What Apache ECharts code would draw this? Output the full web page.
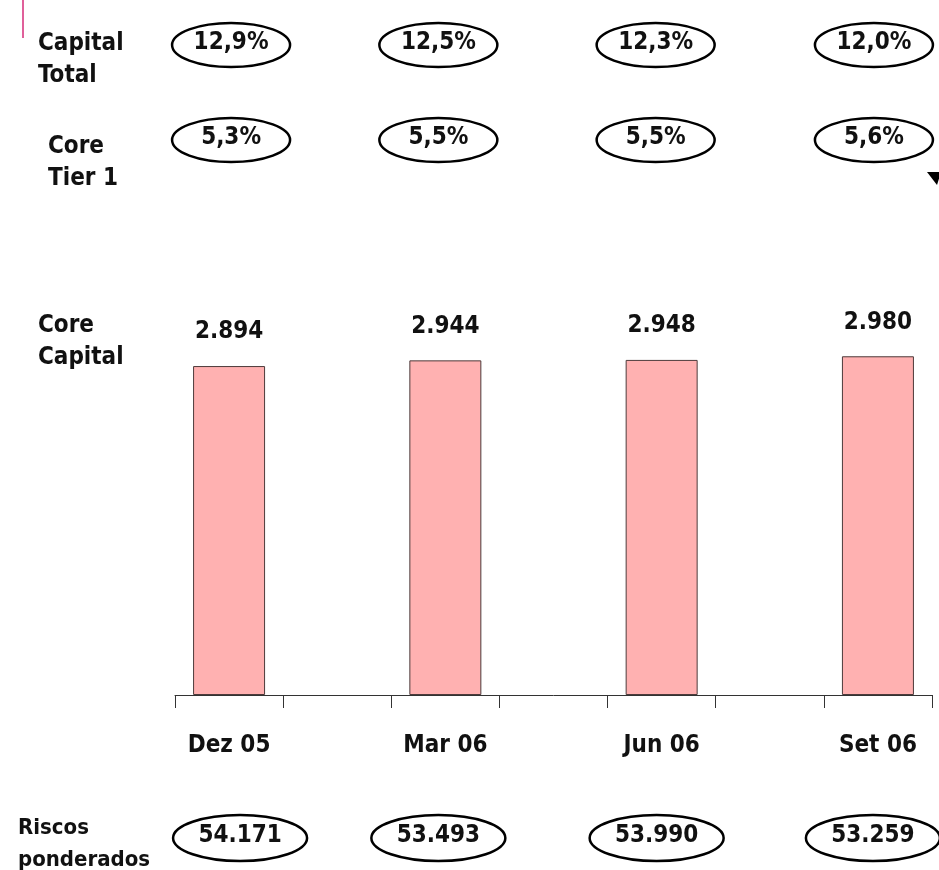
<!DOCTYPE html>
<html>
<head>
<meta charset="utf-8">
<title>Core Capital</title>
<script src="https://cdn.jsdelivr.net/npm/echarts@6/dist/echarts.min.js"></script>
<style>
    html, body { margin: 0; padding: 0; background: #fff; }
    #main { width: 939px; height: 870px; }
</style>
</head>
<body>
<div id="main"></div>
<script>
// dados
let periods = ['Dez 05', 'Mar 06', 'Jun 06', 'Set 06'];
let coreCapital = [2894, 2944, 2948, 2980];
let capitalTotal = [12.9, 12.5, 12.3, 12.0];
let coreTier1 = [5.3, 5.5, 5.5, 5.6];
let riscosPonderados = [54171, 53493, 53990, 53259];

let FONT = '"DejaVu Sans Condensed", "DejaVu Sans", sans-serif';

// eixo com espaços vazios entre os trimestres
let categories = [];
let barData = [];
periods.forEach((p, i) => {
    if (i > 0) {
        categories.push('gap' + i);
        barData.push(null);
    }
    categories.push(p);
    barData.push(coreCapital[i]);
});

function pct(v) {
    return v.toFixed(1).replace('.', ',') + '%';
}

function milhares(v) {
    return String(v).replace(/\B(?=(\d{3})+(?!\d))/g, '.');
}

let chart = echarts.init(document.getElementById('main'));

let option = {
    animation: false,
    grid: {
        left: 175,
        right: 7,
        top: 354,
        bottom: 175
    },
    xAxis: {
        type: 'category',
        data: categories,
        boundaryGap: true,
        axisLine: { lineStyle: { color: '#333', width: 1 } },
        axisTick: { show: true, interval: 0, length: 13, lineStyle: { color: '#333' } },
        axisLabel: {
            interval: 0,
            margin: 39,
            fontFamily: FONT,
            fontWeight: 'bold',
            fontSize: 24,
            color: '#111',
            formatter: function(v) {
                return v.indexOf('gap') === 0 ? '' : v;
            }
        },
        splitLine: { show: false }
    },
    yAxis: {
        type: 'value',
        min: 0,
        max: 3000,
        show: false
    },
    series: [{
        type: 'bar',
        data: barData,
        barWidth: 72,
        itemStyle: {
            color: '#ffb1b1',
            borderColor: '#4d3b3b',
            borderWidth: 1
        },
        label: {
            show: true,
            position: 'top',
            distance: 22,
            fontFamily: FONT,
            fontWeight: 'bold',
            fontSize: 24,
            color: '#111',
            formatter: function(p) {
                return milhares(p.value);
            }
        }
    }]
};

chart.setOption(option);

// rótulos à esquerda e elipses com os rácios
function rowLabel(text, x, y, size) {
    return {
        type: 'text',
        style: {
            x: x,
            y: y,
            text: text,
            fontFamily: FONT,
            fontWeight: 'bold',
            fontSize: size || 24,
            lineHeight: 32,
            fill: '#111',
            textVerticalAlign: 'top'
        }
    };
}

function oval(cx, cy, rx, ry, text) {
    return {
        type: 'group',
        children: [{
            type: 'ellipse',
            shape: { cx: cx, cy: cy, rx: rx, ry: ry },
            style: { fill: '#fff', stroke: '#000', lineWidth: 2.5 }
        }, {
            type: 'text',
            style: {
                x: cx,
                y: cy - 2,
                text: text,
                fontFamily: FONT,
                fontWeight: 'bold',
                fontSize: 24,
                fill: '#111',
                textAlign: 'center',
                textVerticalAlign: 'middle'
            }
        }]
    };
}

let elements = [
    rowLabel('Capital\nTotal', 38, 28),
    rowLabel('Core\nTier 1', 48, 131),
    rowLabel('Core\nCapital', 38, 310),
    rowLabel('Riscos\nponderados', 18, 812, 22),
    {
        type: 'line',
        shape: { x1: 23, y1: 0, x2: 23, y2: 38 },
        style: { stroke: '#e0609a', lineWidth: 2 }
    },
    {
        type: 'polygon',
        shape: { points: [[927, 172], [941, 172], [937, 185]] },
        style: { fill: '#000' }
    }
];

// pequenos desvios das elipses em relação ao centro das barras
let topShift = [2, -7, -6, -4];
let bottomShift = [11, -7, -5, -5];

periods.forEach((p, i) => {
    let x = chart.convertToPixel({ xAxisIndex: 0 }, p);
    elements.push(oval(x + topShift[i], 45, 59, 22, pct(capitalTotal[i])));
    elements.push(oval(x + topShift[i], 140, 59, 22, pct(coreTier1[i])));
    elements.push(oval(x + bottomShift[i], 838, 67, 23, milhares(riscosPonderados[i])));
});

chart.setOption({ graphic: { elements: elements } });

window.onresize = function() {
    chart.resize();
};
</script>
</body>
</html>
